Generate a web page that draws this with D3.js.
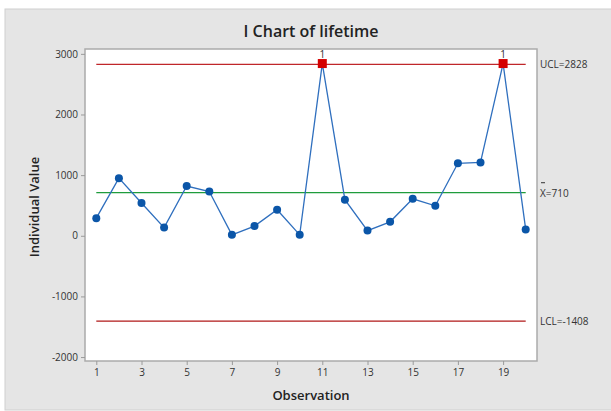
<!DOCTYPE html>
<html>
<head>
<meta charset="utf-8">
<script src="https://cdn.jsdelivr.net/npm/d3@7"></script>
<style>
  body { margin: 0; background: #fff; }
  svg text { font-family: "Open Sans", "Noto Sans", sans-serif; }
</style>
</head>
<body>
<svg id="chart" width="611" height="411"></svg>
<script>
const observations = d3.range(1, 21);
const lifetime = [290, 950, 540, 135, 820, 730, 15, 160, 430, 15,
                  2840, 595, 85, 230, 610, 495, 1195, 1210, 2840, 105];
const yTicks = [-2000, -1000, 0, 1000, 2000, 3000];
const xTicks = [1, 3, 5, 7, 9, 11, 13, 15, 17, 19];
const limits = { ucl: 2828, mean: 710, lcl: -1408 };

const svg = d3.select("#chart");

// gray panel behind everything
svg.append("rect")
  .attr("x", 5).attr("y", 9).attr("width", 610).attr("height", 401)
  .attr("fill", "#e5e5e5").attr("stroke", "#cfcfcf");

const plot = { left: 85, right: 537, top: 49, bottom: 361 };

const x = d3.scaleLinear().domain([0.5, 20.5]).range([plot.left, plot.right]);
const y = d3.scaleLinear().domain([-2065, 3080]).range([plot.bottom, plot.top]);

svg.append("rect")
  .attr("x", plot.left).attr("y", plot.top)
  .attr("width", plot.right - plot.left).attr("height", plot.bottom - plot.top)
  .attr("fill", "#fff").attr("stroke", "#ababab").attr("stroke-width", 1.5);

// axes (plain hyphen for negatives, like the original)
const yAxis = svg.append("g")
  .attr("transform", `translate(${plot.left},0)`)
  .call(d3.axisLeft(y).tickValues(yTicks).tickSize(4).tickPadding(3).tickFormat(d => String(d)));
const xAxis = svg.append("g")
  .attr("transform", `translate(0,${plot.bottom})`)
  .call(d3.axisBottom(x).tickValues(xTicks).tickSize(4).tickPadding(4));
[yAxis, xAxis].forEach(g => {
  g.select(".domain").remove();
  g.selectAll(".tick line").attr("stroke", "#9a9a9a");
  g.selectAll(".tick text").attr("fill", "#333").style("font-size", "10px");
});

// control limits and center line
const lineFrom = 1, lineTo = 20;
[["ucl", "#c0262a"], ["mean", "#1f9c3c"], ["lcl", "#b01818"]].forEach(([k, c]) => {
  svg.append("line")
    .attr("x1", x(lineFrom)).attr("x2", x(lineTo))
    .attr("y1", y(limits[k])).attr("y2", y(limits[k]))
    .attr("stroke", c).attr("stroke-width", 1.3);
});

// limit labels on the right
const lab = svg.append("g").attr("fill", "#333").style("font-size", "10px");
lab.append("text").attr("x", 540).attr("y", y(limits.ucl) + 4).text("UCL=" + limits.ucl);
lab.append("text").attr("x", 540).attr("y", y(limits.mean) + 4).text("X=" + limits.mean);
lab.append("text").attr("x", 540).attr("y", y(limits.lcl) + 4).text("LCL=" + limits.lcl);
// bar over the X
svg.append("line")
  .attr("x1", 541).attr("x2", 545)
  .attr("y1", y(limits.mean) - 10).attr("y2", y(limits.mean) - 10)
  .attr("stroke", "#333").attr("stroke-width", 1);

// data line
svg.append("path")
  .datum(lifetime)
  .attr("fill", "none")
  .attr("stroke", "#2f6fbe")
  .attr("stroke-width", 1.3)
  .attr("d", d3.line().x((d, i) => x(observations[i])).y(d => y(d)));

const pts = lifetime.map((v, i) => ({ obs: observations[i], v: v, out: v > limits.ucl || v < limits.lcl }));

svg.selectAll("circle.pt")
  .data(pts.filter(d => !d.out))
  .join("circle")
  .attr("class", "pt")
  .attr("cx", d => x(d.obs)).attr("cy", d => y(d.v))
  .attr("r", 4).attr("fill", "#0b56a8");

svg.selectAll("rect.out")
  .data(pts.filter(d => d.out))
  .join("rect")
  .attr("class", "out")
  .attr("x", d => x(d.obs) - 4.5).attr("y", d => y(d.v) - 4.5)
  .attr("width", 9).attr("height", 9)
  .attr("fill", "#d40000");

svg.selectAll("text.flag")
  .data(pts.filter(d => d.out))
  .join("text")
  .attr("class", "flag")
  .attr("x", d => x(d.obs)).attr("y", d => y(d.v) - 5.5)
  .attr("text-anchor", "middle").attr("fill", "#333")
  .style("font-size", "10px")
  .text("1");

// titles
svg.append("text")
  .attr("x", 311).attr("y", 37)
  .attr("text-anchor", "middle").attr("fill", "#222")
  .style("font-size", "16px").style("font-weight", 600)
  .text("I Chart of lifetime");

svg.append("text")
  .attr("x", 311).attr("y", 400)
  .attr("text-anchor", "middle").attr("fill", "#222")
  .style("font-size", "13px").style("font-weight", 600)
  .text("Observation");

svg.append("text")
  .attr("transform", "translate(39,207) rotate(-90)")
  .attr("text-anchor", "middle").attr("fill", "#222")
  .style("font-size", "13px").style("font-weight", 600)
  .text("Individual Value");
</script>
</body>
</html>
